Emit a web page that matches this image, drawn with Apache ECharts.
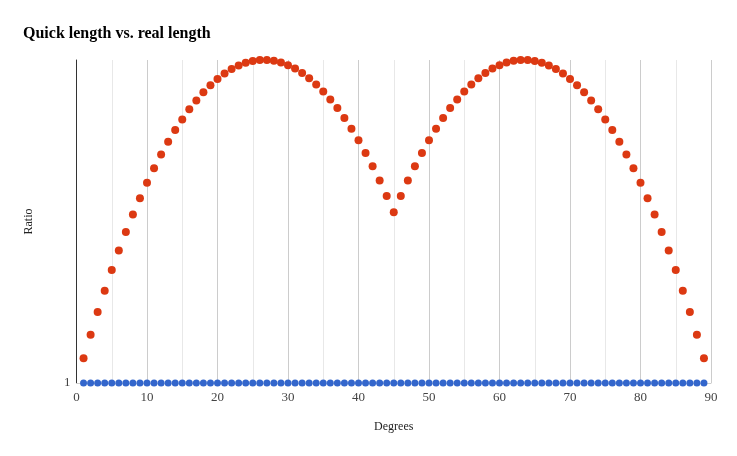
<!DOCTYPE html>
<html>
<head>
<meta charset="utf-8">
<script src="https://cdn.jsdelivr.net/npm/echarts@6/dist/echarts.min.js"></script>
<style>html,body{margin:0;padding:0;background:#fff;}#c{width:737px;height:456px;}</style>
</head>
<body>
<div id="c"></div>
<script>
const degrees = [1,2,3,4,5,6,7,8,9,10,11,12,13,14,15,16,17,18,19,20,21,22,23,24,25,26,27,28,29,30,31,32,33,34,35,36,37,38,39,40,41,42,43,44,45,46,47,48,49,50,51,52,53,54,55,56,57,58,59,60,61,62,63,64,65,66,67,68,69,70,71,72,73,74,75,76,77,78,79,80,81,82,83,84,85,86,87,88,89];
const quickRatio = [1.0086,1.0168,1.0248,1.0324,1.0398,1.0468,1.0535,1.0599,1.0659,1.0716,1.0770,1.0821,1.0869,1.0913,1.0953,1.0991,1.1025,1.1056,1.1083,1.1107,1.1128,1.1145,1.1159,1.1169,1.1176,1.1180,1.1180,1.1177,1.1170,1.1160,1.1147,1.1130,1.1110,1.1086,1.1059,1.1029,1.0996,1.0958,1.0918,1.0874,1.0827,1.0777,1.0724,1.0667,1.0607,
1.0667,1.0724,1.0777,1.0827,1.0874,1.0918,1.0958,1.0996,1.1029,1.1059,1.1086,1.1110,1.1130,1.1147,1.1160,1.1170,1.1177,1.1180,1.1180,1.1176,1.1169,1.1159,1.1145,1.1128,1.1107,1.1083,1.1056,1.1025,1.0991,1.0953,1.0913,1.0869,1.0821,1.0770,1.0716,1.0659,1.0599,1.0535,1.0468,1.0398,1.0324,1.0248,1.0168,1.0086];
const realRatio = [1,1,1,1,1,1,1,1,1,1,1,1,1,1,1,1,1,1,1,1,1,1,1,1,1,1,1,1,1,1,1,1,1,1,1,1,1,1,1,1,1,1,1,1,1,1,1,1,1,1,1,1,1,1,1,1,1,1,1,1,1,1,1,1,1,1,1,1,1,1,1,1,1,1,1,1,1,1,1,1,1,1,1,1,1,1,1,1,1];
const xTicks = [0,10,20,30,40,50,60,70,80,90];

const chart = echarts.init(document.getElementById('c'), null, {renderer:'canvas'});
const serif = '"Liberation Serif", "DejaVu Serif", serif';
chart.setOption({
  animation: false,
  backgroundColor: '#fff',
  title: {
    text: 'Quick length vs. real length',
    left: 18, top: 21,
    textStyle: {fontFamily: serif, fontSize: 16, fontWeight: 'bold', color: '#000'}
  },
  grid: {left: 76.5, right: 26, top: 60, bottom: 73, containLabel: false},
  xAxis: {
    type: 'value', min: 0, max: 90, interval: 10,
    name: 'Degrees', nameLocation: 'middle', nameGap: 38,
    nameTextStyle: {fontFamily: serif, fontSize: 12, color: '#222'},
    axisLine: {show: true, lineStyle: {color: '#ccc'}},
    axisTick: {show: false},
    axisLabel: {fontFamily: serif, fontSize: 13, color: '#444', margin: 8,
      formatter: v => xTicks.indexOf(v) >= 0 ? String(v) : ''},
    splitLine: {show: true, lineStyle: {color: '#ccc', width: 1}},
    minorTick: {show: false, splitNumber: 2},
    minorSplitLine: {show: true, lineStyle: {color: '#e8e8e8', width: 1}}
  },
  yAxis: {
    type: 'log', logBase: 10, min: 1, max: 1.118,
    name: 'Ratio', nameLocation: 'middle', nameGap: 42,
    nameTextStyle: {fontFamily: serif, fontSize: 12, color: '#222'},
    axisLine: {show: true, lineStyle: {color: '#333', width: 1}},
    axisTick: {show: false},
    splitLine: {show: false},
    axisLabel: {fontFamily: serif, fontSize: 13, color: '#444', margin: 6,
      showMinLabel: true, showMaxLabel: false,
      formatter: v => Math.abs(v - 1) < 1e-9 ? '1' : ''}
  },
  series: [
    {
      name: 'Quick', type: 'scatter', symbolSize: 8, clip: true,
      itemStyle: {color: '#dc3912', opacity: 1},
      data: degrees.map((d, i) => [d, quickRatio[i]]),
      z: 3
    },
    {
      name: 'Real', type: 'scatter', symbolSize: 7, clip: true,
      itemStyle: {color: '#3366cc', opacity: 1},
      data: degrees.map((d, i) => [d, realRatio[i]]),
      z: 2
    }
  ]
});
</script>
</body>
</html>
